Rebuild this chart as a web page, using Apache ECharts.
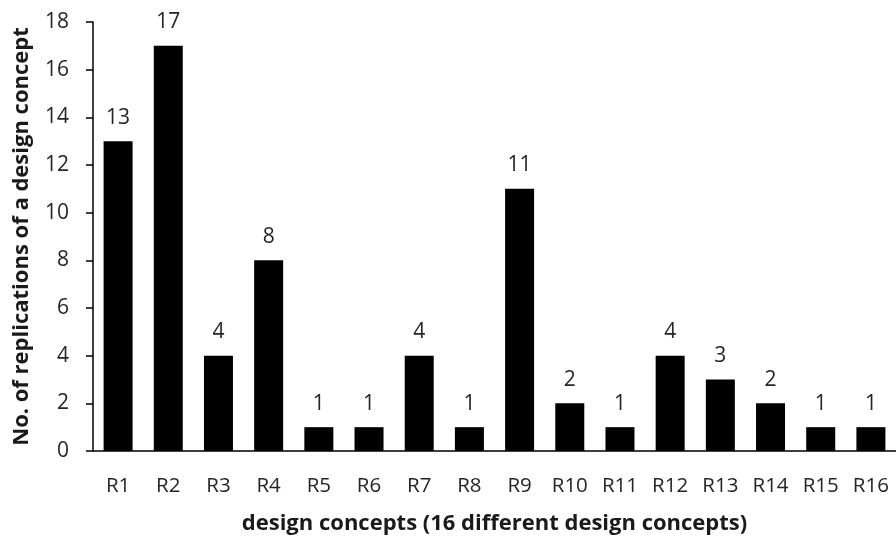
<!DOCTYPE html>
<html><head><meta charset="utf-8">
<script src="https://cdn.jsdelivr.net/npm/echarts@6/dist/echarts.min.js"></script>
<style>html,body{margin:0;padding:0;background:#fff}#c{width:896px;height:540px}</style>
</head><body><div id="c"></div>
<script>
const categories = ['R1','R2','R3','R4','R5','R6','R7','R8','R9','R10','R11','R12','R13','R14','R15','R16'];
const replications = [13,17,4,8,1,1,4,1,11,2,1,4,3,2,1,1];
const yTicks = [0,2,4,6,8,10,12,14,16,18];
const font = '"Open Sans", "Noto Sans", sans-serif';
const chart = echarts.init(document.getElementById('c'));
chart.setOption({
  animation: false,
  grid: {left: 93, top: 22, width: 812, height: 430, containLabel: false},
  xAxis: {
    type: 'category', data: categories,
    name: 'design concepts (16 different design concepts)',
    nameLocation: 'middle', nameGap: 62,
    nameTextStyle: {fontFamily: font, fontSize: 22, fontWeight: 'bold', color: '#1a1a1a'},
    axisLine: {lineStyle: {color: '#000', width: 1.5}},
    axisTick: {show: false},
    axisLabel: {fontFamily: font, fontSize: 20.5, color: '#262626', margin: 25}
  },
  yAxis: {
    type: 'value', min: 0, max: 18, interval: 2,
    name: 'No. of replications of a design concept',
    nameLocation: 'middle', nameGap: 60,
    nameTextStyle: {fontFamily: font, fontSize: 22, fontWeight: 'bold', color: '#1a1a1a'},
    axisLine: {show: true, lineStyle: {color: '#000', width: 1.5}},
    axisTick: {show: true, inside: false, length: 7, lineStyle: {color: '#000', width: 1.5}},
    axisLabel: {fontFamily: font, fontSize: 21, color: '#262626', margin: 24,
      formatter: v => yTicks.includes(v) ? String(v) : ''},
    splitLine: {show: false}
  },
  series: [{
    type: 'bar', data: replications, barWidth: 29,
    itemStyle: {color: '#000'},
    label: {show: true, position: 'top', distance: 13, fontFamily: font, fontSize: 21, color: '#262626'}
  }]
});
</script></body></html>
